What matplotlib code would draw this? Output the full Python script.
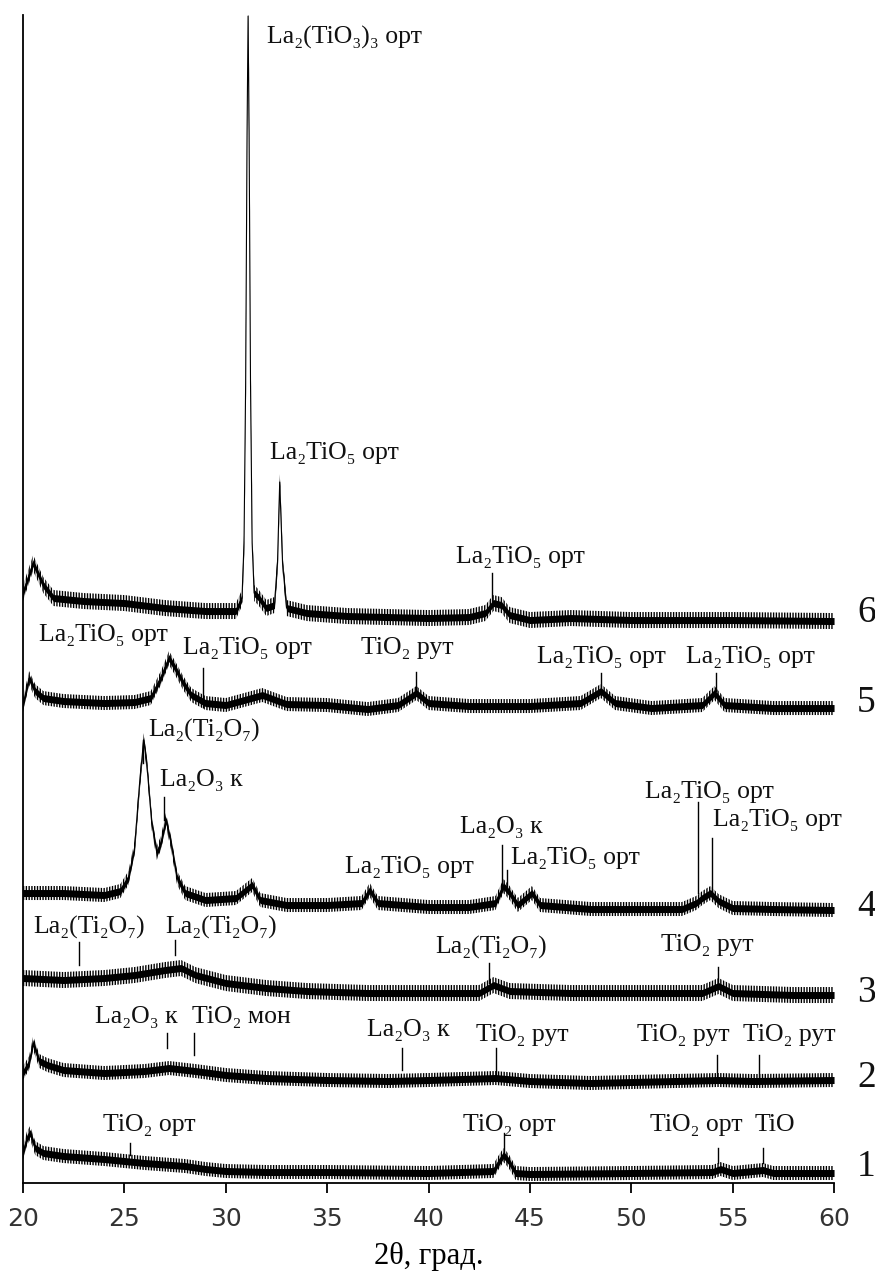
import numpy as np
import matplotlib.pyplot as plt

# XRD patterns, heights in arbitrary units (stacked, offset already included)
tt6 = [20.0, 20.5, 21.0, 21.5, 23, 25, 27, 29, 30.5, 30.8, 30.9, 30.98, 31.05, 31.1, 31.15, 31.22, 31.3, 31.4,
       31.6, 32.0, 32.4, 32.55, 32.66, 32.8, 33.0, 34, 36, 38, 40, 42, 42.8, 43.2, 43.6, 44.0, 45, 47, 50, 55, 60]
y6 = [590, 620, 598, 585, 582, 580, 575, 572, 572, 585, 640, 800, 1050, 1167, 1050, 800, 640, 590,
      586, 575, 578, 620, 701, 620, 575, 570, 567, 566, 565, 566, 570, 580, 578, 568, 563, 565, 563, 563, 562]

tt5 = [20.0, 20.3, 20.6, 21.0, 22, 24, 25.5, 26.3, 26.8, 27.2, 27.5, 27.9, 28.3, 29.0, 30, 31.8, 33, 35, 37,
       38.5, 39.4, 40, 42, 45, 47.5, 48.5, 49.2, 51, 53.5, 54.1, 54.6, 57, 60]
y5 = [478, 505, 492, 485, 482, 480, 481, 485, 505, 525, 515, 500, 488, 480, 478, 488, 479, 478, 474,
      478, 490, 480, 477, 477, 480, 492, 480, 475, 478, 490, 478, 475, 475]

tt4 = [20.0, 22, 24, 24.8, 25.2, 25.5, 25.75, 25.95, 26.1, 26.35, 26.6, 26.8, 27.05, 27.3, 27.6, 28.0, 29, 30.5,
       31.3, 31.7, 33, 35, 36.7, 37.1, 37.5, 40, 42, 43.3, 43.7, 44.0, 44.4, 45.1, 45.5, 48, 50, 52.5, 53.2,
       53.5, 53.9, 54.3, 55, 57, 60]
y4 = [290, 290, 288, 292, 305, 335, 400, 443, 420, 360, 330, 340, 363, 340, 305, 290, 283, 285,
      298, 283, 278, 278, 280, 293, 280, 276, 276, 280, 297, 290, 278, 290, 278, 274, 274, 274, 280,
      285, 290, 282, 275, 274, 273]

tt3 = [20, 22, 24, 25.5, 27, 27.8, 28.5, 30, 32, 34, 37, 40, 42.5, 43.2, 44, 47, 50, 53.5, 54.3, 55, 58, 60]
y3 = [205, 203, 205, 208, 213, 215, 208, 200, 195, 192, 190, 190, 190, 198, 192, 190, 190, 190, 197, 190, 188, 188]

tt2 = [20, 20.3, 20.5, 20.8, 21.2, 22, 24, 26, 27.2, 28.5, 30, 32, 35, 38, 40, 43.3, 45, 48, 50, 54.3, 56, 60]
y2 = [110, 120, 140, 122, 118, 113, 110, 112, 115, 112, 108, 105, 103, 102, 103, 105, 102, 100, 101, 103, 102, 103]

tt1 = [20, 20.2, 20.35, 20.6, 21, 22, 24, 26, 28, 29, 30, 32, 35, 40, 43.2, 43.5, 43.7, 43.95, 44.3, 45,
       50, 54, 54.4, 55, 56.5, 57, 60]
y1 = [30, 45, 50, 35, 30, 27, 24, 20, 17, 14, 12, 11, 11, 10, 12, 22, 28, 22, 10, 9,
      10, 11, 14, 10, 13, 10, 10]

traces = [(tt1, y1), (tt2, y2), (tt3, y3), (tt4, y4), (tt5, y5), (tt6, y6)]
noise = [7, 7, 8, 7, 7, 8]  # half-width of the noisy band (spikes)
curve_names = ['1', '2', '3', '4', '5', '6']
curve_name_y = [16, 105, 190, 276, 480, 570]

# phase labels: text, x, y, tick x, tick top, tick bottom (None = no tick)
lab_text = ['La₂(TiO₃)₃ орт', 'La₂TiO₅ орт', 'La₂TiO₅ орт',
            'La₂TiO₅ орт', 'La₂TiO₅ орт', 'TiO₂ рут', 'La₂TiO₅ орт', 'La₂TiO₅ орт',
            'La₂(Ti₂O₇)', 'La₂O₃ к', 'La₂TiO₅ орт', 'La₂O₃ к', 'La₂TiO₅ орт', 'La₂TiO₅ орт', 'La₂TiO₅ орт',
            'La₂(Ti₂O₇)', 'La₂(Ti₂O₇)', 'La₂(Ti₂O₇)', 'TiO₂ рут',
            'La₂O₃ к', 'TiO₂ мон', 'La₂O₃ к', 'TiO₂ рут', 'TiO₂ рут', 'TiO₂ рут',
            'TiO₂ орт', 'TiO₂ орт', 'TiO₂ орт', 'TiO']
lab_x = [35.88, 35.34, 44.51,
         23.95, 31.05, 38.94, 48.51, 55.86,
         28.93, 28.78, 39.04, 43.58, 47.23, 53.84, 57.19,
         23.26, 29.77, 43.08, 53.74,
         25.57, 30.75, 38.99, 44.61, 52.55, 57.78,
         26.21, 43.97, 53.19, 57.09]
lab_y = [1146, 730, 626,
         548, 535, 535, 526, 526,
         453, 403, 316, 356, 325, 391, 363,
         256, 256, 236, 238,
         166, 166, 153, 148, 148, 148,
         58, 58, 58, 58]
tick_x = [None, None, 43.15,
          None, 28.87, 39.36, 48.5, 54.2,
          25.9, 26.95, None, 43.6, 43.85, 53.3, 54.0,
          22.76, 27.5, 43.0, 54.3,
          27.1, 28.45, 38.7, 43.35, 54.25, 56.3,
          25.27, 43.7, 54.3, 56.5]
tick_top = [0, 0, 610,
            0, 515, 511, 510, 510,
            443, 386, 0, 338, 313, 381, 345,
            241, 243, 220, 216,
            150, 150, 135, 135, 128, 128,
            40, 50, 35, 35]
tick_bot = [0, 0, 578,
            0, 476, 493, 490, 492,
            420, 363, 0, 296, 296, 290, 290,
            218, 228, 200, 196,
            135, 128, 113, 105, 105, 105,
            28, 28, 20, 20]

serif = ['Liberation Serif', 'DejaVu Serif']
plt.rcParams['hatch.linewidth'] = 1.0

fig = plt.figure(figsize=(8.75, 12.77), dpi=100)
ax = fig.add_axes([0.0263, 0.0736, 0.9269, 0.9146])

for (tt, yy), n in zip(traces, noise):
    tt = np.array(tt)
    yy = np.array(yy, dtype=float)
    # spiky outer band drawn as vertical hatching, solid core inside
    ax.fill_between(tt, yy - n, yy + n, facecolor='none', edgecolor='black', hatch='||||||', lw=0)
    ax.fill_between(tt, yy - 3.5, yy + 3.5, color='black', lw=0)
    ax.plot(tt, yy, color='black', lw=0.8)

for i in range(len(lab_text)):
    ax.text(lab_x[i], lab_y[i], lab_text[i], ha='center', va='center',
            fontsize=18.5, family=serif, color='#111111')
    if tick_x[i] is not None:
        ax.plot([tick_x[i], tick_x[i]], [tick_bot[i], tick_top[i]], color='black', lw=1.0)

for name, yy in zip(curve_names, curve_name_y):
    ax.text(61.6, yy, name, ha='center', va='center', fontsize=27, family=serif,
            color='#111111', clip_on=False)

ax.set_xlim(20, 60)
ax.set_ylim(0, 1168)
ax.set_xticks([20, 25, 30, 35, 40, 45, 50, 55, 60])
ax.set_yticks([])
ax.spines['top'].set_visible(False)
ax.spines['right'].set_visible(False)
ax.spines['left'].set_linewidth(1.3)
ax.spines['bottom'].set_linewidth(1.3)
ax.tick_params(axis='x', direction='out', length=7, width=1.3, pad=10, labelsize=18,
               labelcolor='#333333')
for t in ax.get_xticklabels():
    t.set_family(['Liberation Sans Narrow', 'DejaVu Sans'])
ax.set_xlabel('2θ, град.', fontsize=22, family=serif, labelpad=8)

plt.savefig('out.png', dpi=100)
